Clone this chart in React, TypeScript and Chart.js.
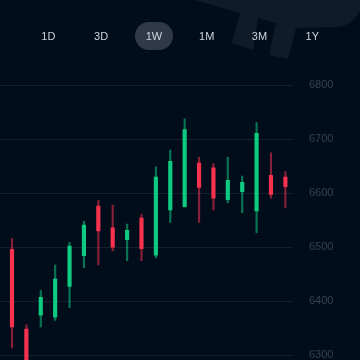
import React, { useEffect, useRef } from "react";
import { Chart, registerables } from "chart.js";

Chart.register(...registerables);

const openVals = [6496, 6348, 6374, 6370, 6427, 6484, 6576, 6536, 6514, 6554, 6485, 6569, 6575, 6656, 6647, 6588, 6603, 6567, 6633, 6630];
const highVals = [6516, 6356, 6420, 6467, 6509, 6548, 6587, 6578, 6543, 6561, 6649, 6680, 6738, 6667, 6655, 6667, 6632, 6731, 6675, 6640];
const lowVals = [6313, 6255, 6352, 6364, 6388, 6462, 6467, 6493, 6475, 6475, 6480, 6546, 6574, 6546, 6569, 6582, 6564, 6527, 6591, 6573];
const closeVals = [6352, 6270, 6407, 6441, 6502, 6541, 6530, 6500, 6531, 6497, 6630, 6659, 6718, 6611, 6591, 6624, 6620, 6711, 6598, 6612];
const yTickValues = [6300, 6400, 6500, 6600, 6700, 6800];
const ranges = ["1D", "3D", "1W", "1M", "3M", "1Y"];
const activeRange = "1W";

const UP = "#0ecb81";
const DOWN = "#f6324e";
const UP_WICK = "rgba(14,203,129,0.55)";
const DOWN_WICK = "rgba(246,50,78,0.55)";

export default function App() {
  const ref = useRef<HTMLCanvasElement | null>(null);

  useEffect(() => {
    if (!ref.current) return;
    const idx = openVals.map((_, i) => i);
    const isUp = idx.map((i) => closeVals[i] >= openVals[i]);
    const chart = new Chart(ref.current, {
      type: "bar",
      data: {
        datasets: [
          {
            label: "body",
            data: idx.map((i) => ({ x: i, y: [openVals[i], closeVals[i]] })) as any,
            backgroundColor: isUp.map((u) => (u ? UP : DOWN)),
            barThickness: 3.5,
            grouped: false,
            order: 0,
          },
          {
            label: "wick",
            data: idx.map((i) => ({ x: i, y: [lowVals[i], highVals[i]] })) as any,
            backgroundColor: isUp.map((u) => (u ? UP_WICK : DOWN_WICK)),
            barThickness: 1.5,
            grouped: false,
            order: 1,
          },
        ],
      },
      options: {
        animation: false,
        responsive: false,
        maintainAspectRatio: false,
        layout: { padding: { top: 80, left: 0, right: 0, bottom: 0 } },
        plugins: { legend: { display: false }, tooltip: { enabled: false } },
        scales: {
          x: {
            type: "linear",
            display: false,
            offset: false,
            min: -0.834,
            max: 19.53,
          },
          y: {
            position: "right",
            min: 6290,
            max: 6810,
            border: { display: false },
            grid: { color: "#141e2c", lineWidth: 1, drawTicks: false },
            afterBuildTicks: (scale: any) => {
              scale.ticks = yTickValues.map((v) => ({ value: v }));
            },
            afterFit: (scale: any) => {
              scale.width = 67;
            },
            ticks: {
              padding: 16,
              color: "#364152",
              font: { family: "Liberation Sans, Arial, sans-serif", size: 11 },
              callback: (v: any) => String(v),
            },
          },
        },
      },
    });
    return () => chart.destroy();
  }, []);

  return (
    <div
      style={{
        position: "fixed",
        left: 0,
        top: 0,
        width: 360,
        height: 360,
        background: "#020d1c",
        overflow: "hidden",
        fontFamily: "Liberation Sans, Arial, sans-serif",
      }}
    >
      <svg width={360} height={360} style={{ position: "absolute", left: 0, top: 0 }}>
        <path
          d="M195,0 L360,0 L360,10 Q352,26 337,27 L296,28 L288,59 L269,55 L276,23 L258,18 L253,50 L232,43 L240,13 Z"
          fill="#101b2a"
        />
      </svg>
      <canvas ref={ref} width={360} height={383} style={{ position: "absolute", left: 0, top: 0 }} />
      {ranges.map((r, i) => {
        const cx = 48.3 + i * 52.8;
        const active = r === activeRange;
        return (
          <div
            key={r}
            style={{
              position: "absolute",
              left: cx - 19,
              top: 22,
              width: 38,
              height: 28,
              borderRadius: 14,
              background: active ? "#303949" : "transparent",
              color: "#cfd3da",
              fontSize: 11,
              lineHeight: "28px",
              textAlign: "center",
            }}
          >
            {r}
          </div>
        );
      })}
    </div>
  );
}
